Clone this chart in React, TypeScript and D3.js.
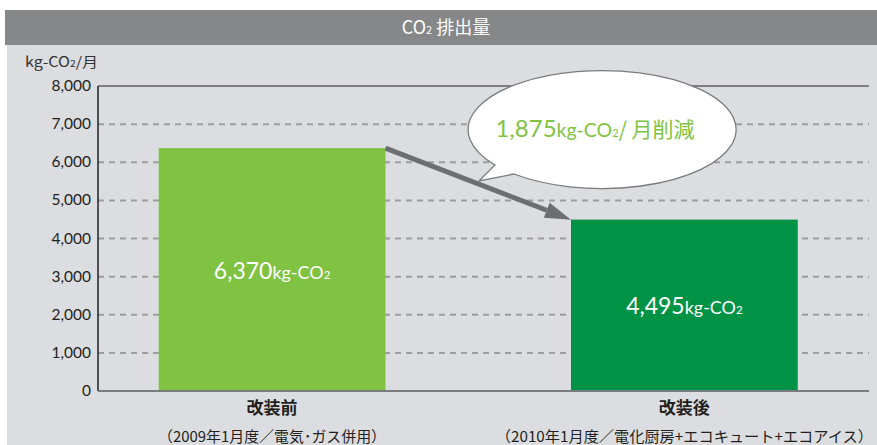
import React from 'react';
import * as d3 from 'd3';

const categories = ['改装前', '改装後'];
const periods = ['（2009年1月度／電気･ガス併用）', '（2010年1月度／電化厨房+エコキュート+エコアイス）'];
const values = [6370, 4495];
const yTicks = [0, 1000, 2000, 3000, 4000, 5000, 6000, 7000, 8000];
const barColors = ['#80c342', '#009245'];

const W = 877;
const H = 445;
const left = 98;
const right = 869;
const top = 86;
const bottom = 391;

const numFont = "Lato, 'Noto Sans CJK JP', sans-serif";
const jpFont = "'Noto Sans CJK JP', sans-serif";

function CO2Label(props: { x: number; y: number; value: number; color: string; big: number }) {
  const { x, y, value, color, big } = props;
  const fmt = d3.format(',');
  return (
    <text x={x} y={y} fill={color} textAnchor="middle" fontFamily={numFont}>
      <tspan fontSize={big}>{fmt(value)}</tspan>
      <tspan fontSize={big * 0.78}>kg-CO</tspan>
      <tspan fontSize={big * 0.5}>2</tspan>
    </text>
  );
}

export default function App() {
  const y = d3.scaleLinear().domain([0, 8000]).range([bottom, top]);
  const x = d3.scaleBand<string>()
    .domain(categories)
    .range([left, right])
    .paddingInner(0.45)
    .paddingOuter(0.16)
    .align(0.46);
  const fmt = d3.format(',');

  // arrow from top-right of first bar to top-left of second
  const x0 = x(categories[0])! + x.bandwidth();
  const y0 = y(values[0]);
  const x1 = x(categories[1])!;
  const y1 = y(values[1]);
  const ang = Math.atan2(y1 - y0, x1 - x0);
  const headLen = 26;
  const headW = 8;
  const bx = x1 - headLen * Math.cos(ang);
  const by = y1 - headLen * Math.sin(ang);
  const nx = -Math.sin(ang);
  const ny = Math.cos(ang);
  const head = [
    [x1, y1],
    [bx + nx * headW, by + ny * headW],
    [bx - nx * headW, by - ny * headW],
  ];

  // speech bubble
  const cx = 599, rx = 134, ry = 59;
  const p1 = [495, 165];
  const tip = [479, 181];
  const p2 = [514, 174];
  const bubblePath =
    `M${p1[0]},${p1[1]} A${rx},${ry} 0 1 1 ${p2[0]},${p2[1]} L${tip[0]},${tip[1]} Z`;

  return (
    <svg width={W} height={H} style={{ position: 'absolute', left: 0, top: 0 }}>
      <rect x={7} y={45} width={W - 7} height={H - 45} fill="#dcdde0" />
      <rect x={5} y={10} width={W - 5} height={35} fill="#868789" />
      <text x={446} y={34} fill="#fff" textAnchor="middle" fontFamily={jpFont} fontSize={18}>
        <tspan>CO</tspan>
        <tspan fontSize={11}>2</tspan>
        <tspan> 排出量</tspan>
      </text>

      <text x={25} y={67} fill="#333" fontFamily={jpFont} fontSize={14} textLength={73} lengthAdjust="spacingAndGlyphs">
        kg-CO<tspan fontSize={9}>2</tspan>/月
      </text>

      {yTicks.slice(1, -1).map(t => (
        <line key={t} x1={left} x2={right} y1={y(t)} y2={y(t)} stroke="#9d9d9f" strokeWidth={2} strokeDasharray="6,5" />
      ))}
      <line x1={left} x2={right} y1={y(8000)} y2={y(8000)} stroke="#231f20" strokeWidth={1} />
      <line x1={left} x2={left} y1={y(8000)} y2={y(0)} stroke="#231f20" strokeWidth={1.5} />

      {yTicks.map(t => (
        <text key={t} x={91} y={y(t) + 5} textAnchor="end" fill="#231f20" fontFamily={numFont} fontSize={15.5}>
          {fmt(t)}
        </text>
      ))}

      {categories.map((c, i) => (
        <rect key={c} x={x(c)} y={y(values[i])} width={x.bandwidth()} height={y(0) - y(values[i])} fill={barColors[i]} />
      ))}
      <line x1={left} x2={right} y1={y(0)} y2={y(0)} stroke="#7a7b7d" strokeWidth={2} />

      {categories.map((c, i) => (
        <CO2Label key={c} x={x(c)! + x.bandwidth() / 2} y={(y(values[i]) + y(0)) / 2 + 9} value={values[i]} color="#fff" big={23} />
      ))}

      <line x1={x0} y1={y0} x2={bx} y2={by} stroke="#6d6e71" strokeWidth={5} />
      <polygon points={head.map(p => p.join(',')).join(' ')} fill="#6d6e71" />

      <path d={bubblePath} fill="#fff" stroke="#7a7b7d" strokeWidth={1.3} />
      <text x={cx - 4} y={137} fill="#80c342" textAnchor="middle" fontFamily={numFont}>
        <tspan fontSize={24}>{fmt(values[0] - values[1])}</tspan>
        <tspan fontSize={19.5}>kg-CO</tspan>
        <tspan fontSize={11}>2</tspan>
        <tspan fontSize={21} fontFamily={jpFont}>/ 月削減</tspan>
      </text>

      {categories.map((c, i) => {
        const mid = x(c)! + x.bandwidth() / 2;
        return (
          <g key={c}>
            <text x={mid} y={414} textAnchor="middle" fill="#231f20" fontFamily={jpFont} fontWeight="bold" fontSize={17}>{c}</text>
            <text x={mid} y={442} textAnchor="middle" fill="#231f20" fontFamily={jpFont} fontSize={15}
              textLength={i === 0 ? 228 : 377} lengthAdjust="spacingAndGlyphs">{periods[i]}</text>
          </g>
        );
      })}
    </svg>
  );
}
